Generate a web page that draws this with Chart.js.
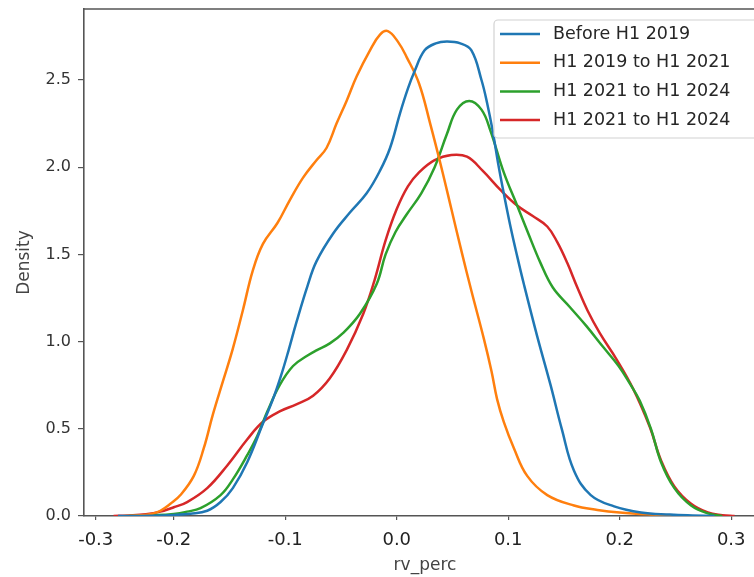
<!DOCTYPE html>
<html><head><meta charset="utf-8">
<script src="https://cdn.jsdelivr.net/npm/chart.js@4"></script>
<style>
html,body{margin:0;padding:0;overflow:hidden;background:#fff;width:754px;height:577px}
#wrap{position:absolute;left:0;top:0;width:768px;height:577px}
</style>
</head><body><div id="wrap"><canvas id="c" width="768" height="577"></canvas></div>
<script>
// ---- data ----
const seriesLabels = ['Before H1 2019', 'H1 2019 to H1 2021', 'H1 2021 to H1 2024', 'H1 2021 to H1 2024'];
const seriesColors = ['#1f77b4', '#ff7f0e', '#2ca02c', '#d62728'];

const beforeX = [-0.25, -0.22, -0.20, -0.185, -0.17, -0.158, -0.147, -0.134, -0.12, -0.111, -0.104, -0.097, -0.09, -0.08, -0.072, -0.057, -0.042, -0.027, -0.015, -0.006, 0.003, 0.01, 0.016, 0.025, 0.035, 0.045, 0.057, 0.067, 0.076, 0.081, 0.086, 0.091, 0.096, 0.102, 0.108, 0.114, 0.126, 0.138, 0.148, 0.159, 0.174, 0.195, 0.219, 0.245, 0.265, 0.285];
const beforeY = [0, 0.002, 0.006, 0.013, 0.03, 0.08, 0.16, 0.31, 0.53, 0.67, 0.80, 0.95, 1.11, 1.32, 1.46, 1.62, 1.74, 1.85, 1.98, 2.11, 2.31, 2.45, 2.55, 2.67, 2.71, 2.72, 2.71, 2.67, 2.50, 2.37, 2.21, 2.02, 1.85, 1.66, 1.49, 1.33, 1.03, 0.75, 0.50, 0.26, 0.12, 0.055, 0.02, 0.008, 0.003, 0];

const h19X = [-0.245, -0.23, -0.22, -0.212, -0.203, -0.194, -0.182, -0.173, -0.165, -0.156, -0.147, -0.138, -0.129, -0.12, -0.107, -0.096, -0.084, -0.072, -0.063, -0.054, -0.045, -0.036, -0.024, -0.015, -0.008, 0.001, 0.009, 0.02, 0.03, 0.04, 0.049, 0.058, 0.067, 0.078, 0.085, 0.09, 0.096, 0.105, 0.117, 0.135, 0.159, 0.18, 0.2, 0.23, 0.26];
const h19Y = [0, 0.004, 0.012, 0.03, 0.07, 0.12, 0.23, 0.39, 0.58, 0.77, 0.96, 1.18, 1.41, 1.56, 1.68, 1.81, 1.94, 2.04, 2.11, 2.25, 2.38, 2.52, 2.67, 2.76, 2.78, 2.72, 2.63, 2.48, 2.25, 2.00, 1.76, 1.52, 1.29, 1.02, 0.83, 0.67, 0.54, 0.39, 0.23, 0.12, 0.06, 0.035, 0.02, 0.008, 0];

const h21aX = [-0.24, -0.22, -0.2, -0.188, -0.176, -0.158, -0.147, -0.134, -0.125, -0.116, -0.105, -0.093, -0.08, -0.072, -0.06, -0.048, -0.033, -0.018, -0.01, -0.001, 0.009, 0.022, 0.034, 0.045, 0.054, 0.065, 0.076, 0.084, 0.096, 0.108, 0.118, 0.129, 0.14, 0.155, 0.17, 0.185, 0.199, 0.209, 0.218, 0.228, 0.237, 0.249, 0.264, 0.279, 0.292];
const h21aY = [0, 0.004, 0.012, 0.025, 0.045, 0.12, 0.21, 0.35, 0.46, 0.60, 0.75, 0.86, 0.92, 0.95, 0.99, 1.05, 1.16, 1.33, 1.50, 1.63, 1.73, 1.85, 2.00, 2.19, 2.33, 2.38, 2.33, 2.21, 1.97, 1.78, 1.62, 1.45, 1.31, 1.20, 1.09, 0.97, 0.86, 0.76, 0.66, 0.50, 0.31, 0.16, 0.06, 0.015, 0];

const h21bX = [-0.254, -0.24, -0.225, -0.212, -0.2, -0.188, -0.17, -0.152, -0.134, -0.12, -0.105, -0.09, -0.075, -0.06, -0.045, -0.03, -0.02, -0.01, 0.0, 0.01, 0.02, 0.034, 0.049, 0.063, 0.077, 0.093, 0.108, 0.122, 0.135, 0.144, 0.153, 0.162, 0.171, 0.182, 0.197, 0.212, 0.227, 0.237, 0.249, 0.264, 0.279, 0.292, 0.303];
const h21bY = [0, 0.003, 0.01, 0.025, 0.05, 0.08, 0.16, 0.29, 0.44, 0.54, 0.60, 0.64, 0.69, 0.79, 0.95, 1.16, 1.35, 1.58, 1.76, 1.89, 1.97, 2.04, 2.07, 2.06, 1.98, 1.87, 1.78, 1.72, 1.66, 1.57, 1.45, 1.31, 1.18, 1.05, 0.90, 0.73, 0.51, 0.32, 0.17, 0.07, 0.02, 0.005, 0];

const seriesX = [beforeX, h19X, h21aX, h21bX];
const seriesY = [beforeY, h19Y, h21aY, h21bY];

const yTickValues = [0, 0.5, 1.0, 1.5, 2.0, 2.5];
// the "-0.3" label sits at about -0.27 in the picture (left edge of the axis is ~-0.28)
const xTickValues = [-0.27, -0.2, -0.1, 0.0, 0.1, 0.2, 0.3];
const xTickLabels = ['-0.3', '-0.2', '-0.1', '0.0', '0.1', '0.2', '0.3'];

// ---- chart ----
const frameAndLegend = {
  id: 'frameAndLegend',
  afterDatasetsDraw(chart) {
    const {ctx, chartArea: a} = chart;
    ctx.save();
    ctx.strokeStyle = '#555'; ctx.lineWidth = 1.6;
    ctx.beginPath(); ctx.moveTo(a.left, a.top); ctx.lineTo(a.right, a.top); ctx.lineTo(a.right, a.bottom); ctx.stroke();
    const bx = a.right - 272, by = a.top + 11, bw = 268, bh = 118;
    ctx.fillStyle = 'rgba(255,255,255,0.85)'; ctx.strokeStyle = '#d2d2d2'; ctx.lineWidth = 1.2;
    ctx.beginPath(); ctx.roundRect(bx, by, bw, bh, 4); ctx.fill(); ctx.stroke();
    ctx.font = '17.5px "DejaVu Sans"'; ctx.textBaseline = 'middle'; ctx.textAlign = 'left';
    chart.data.datasets.forEach((ds, i) => {
      const cy = by + 14 + i * 28.7;
      ctx.strokeStyle = ds.borderColor; ctx.lineWidth = 2.5;
      ctx.beginPath(); ctx.moveTo(bx + 6, cy); ctx.lineTo(bx + 46, cy); ctx.stroke();
      ctx.fillStyle = '#262626';
      ctx.fillText(ds.label, bx + 59, cy);
    });
    ctx.restore();
  }
};

const datasets = seriesLabels.map((label, i) => ({
  label,
  data: seriesX[i].map((x, j) => ({x, y: seriesY[i][j]})),
  borderColor: seriesColors[i],
  backgroundColor: seriesColors[i],
  fill: false
}));

new Chart(document.getElementById('c'), {
  type: 'line',
  data: {datasets},
  options: {
    responsive: false, animation: false, devicePixelRatio: 1,
    layout: {padding: {top: 9, right: 2, left: 0, bottom: 0}},
    plugins: {legend: {display: false}, tooltip: {enabled: false}},
    elements: {point: {radius: 0}, line: {borderWidth: 2.5, tension: 0.4, cubicInterpolationMode: 'default'}},
    scales: {
      x: {
        type: 'linear', min: -0.2805, max: 0.3312,
        afterBuildTicks: s => { s.ticks = xTickValues.map(v => ({value: v})); },
        afterFit: s => { s.height = 61; s.paddingLeft = 0; s.paddingRight = 0; },
        ticks: {callback: (v, i) => xTickLabels[i], font: {family: 'DejaVu Sans', size: 18}, color: '#222', padding: 10, maxRotation: 0, autoSkip: false},
        grid: {display: true, drawOnChartArea: false, drawTicks: true, tickLength: 4, color: '#555', lineWidth: 1.2},
        border: {display: true, color: '#555', width: 1.6},
        title: {display: true, text: 'rv_perc', font: {family: 'DejaVu Sans', size: 17}, color: '#444', padding: {top: 0, bottom: 1}}
      },
      y: {
        type: 'linear', min: 0, max: 2.907,
        afterBuildTicks: s => { s.ticks = yTickValues.map(v => ({value: v})); },
        afterFit: s => { s.width = 84; s.paddingTop = 0; s.paddingBottom = 0; },
        ticks: {callback: v => v.toFixed(1), font: {family: 'DejaVu Sans', size: 16}, color: '#333', padding: 7},
        grid: {display: true, drawOnChartArea: false, drawTicks: true, tickLength: 6, color: '#555', lineWidth: 1.2},
        border: {display: true, color: '#555', width: 1.6},
        title: {display: true, text: 'Density', font: {family: 'DejaVu Sans', size: 17}, color: '#444', padding: {top: 14, bottom: 0}}
      }
    }
  },
  plugins: [frameAndLegend]
});
</script>
</body></html>
